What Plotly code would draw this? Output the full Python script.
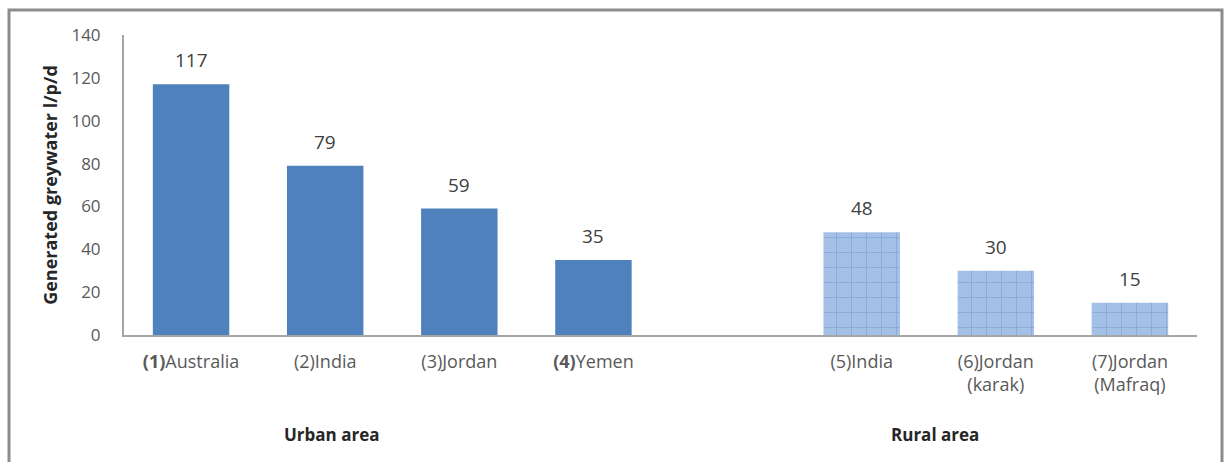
import plotly.graph_objects as go

# Greywater generated per person per day, by study site
urban_labels = ["<b>(1)</b>Australia", "(2)India", "(3)Jordan", "<b>(4)</b>Yemen"]
urban_values = [117, 79, 59, 35]
rural_labels = ["(5)India", "(6)Jordan<br>(karak)", "(7)Jordan<br>(Mafraq)"]
rural_values = [48, 30, 15]
group_names = ["Urban area", "Rural area"]
y_ticks = [0, 20, 40, 60, 80, 100, 120, 140]

FONT = "Open Sans"
BLUE = "#4f81bd"

# one empty slot separates the urban and rural groups
urban_x = list(range(len(urban_values)))
rural_x = [len(urban_values) + 1 + i for i in range(len(rural_values))]
n_slots = len(urban_values) + 1 + len(rural_values)

fig = go.Figure()
fig.add_trace(go.Bar(
    x=urban_x, y=urban_values,
    marker=dict(color=BLUE, line=dict(width=0)),
    showlegend=False, hoverinfo="x+y",
))
fig.add_trace(go.Bar(
    x=rural_x, y=rural_values,
    marker=dict(
        color="#a4c0e6", line=dict(width=0),
        pattern=dict(shape="+", fgcolor="#6e94cc", size=15, solidity=0.12,
                     fillmode="overlay"),
    ),
    showlegend=False, hoverinfo="x+y",
))

# value labels above each bar
for xs, vs in ((urban_x, urban_values), (rural_x, rural_values)):
    for x, v in zip(xs, vs):
        fig.add_annotation(x=x, y=v, text=str(v), showarrow=False,
                           yanchor="bottom", yshift=9,
                           font=dict(family=FONT, size=19, color="#404040"))

# group captions under the category labels
group_x = [1.05, 5.55]
for gx, name in zip(group_x, group_names):
    fig.add_annotation(x=gx, y=-0.333, xref="x", yref="paper", text=f"<b>{name}</b>",
                       xanchor="center", yanchor="middle",
                       showarrow=False, font=dict(family=FONT, size=17, color="#262626"))

# outer frame of the chart
L, R, T, B = 124, 32, 35, 127
W, H = 1229, 462
pw, ph = W - L - R, H - T - B
fig.add_shape(type="rect", xref="paper", yref="paper",
              x0=(9 - L) / pw, x1=(1222 - L) / pw,
              y0=(H - B - 475) / ph, y1=(H - B - 10) / ph,
              line=dict(color="#8c8c8c", width=3), fillcolor="rgba(0,0,0,0)", layer="below")

fig.update_layout(
    width=W, height=H,
    margin=dict(l=L, r=R, t=T, b=B),
    paper_bgcolor="white", plot_bgcolor="white",
    bargap=0.43,
    font=dict(family=FONT, size=16, color="#595959"),
    xaxis=dict(
        range=[-0.5, n_slots - 0.5],
        tickmode="array",
        tickvals=urban_x + rural_x,
        ticktext=urban_labels + rural_labels,
        showline=True, linecolor="#a6a6a6", linewidth=2,
        ticks="outside", ticklen=9, tickcolor="rgba(0,0,0,0)",
        showgrid=False, zeroline=False,
        tickfont=dict(family=FONT, size=18, color="#595959"),
    ),
    yaxis=dict(
        range=[0, 140],
        tickmode="array", tickvals=y_ticks,
        showline=True, linecolor="#a6a6a6", linewidth=2,
        ticks="outside", ticklen=18, tickcolor="rgba(0,0,0,0)",
        showgrid=False, zeroline=False,
        tickfont=dict(family=FONT, size=17, color="#595959"),
        title=dict(text="<b>Generated greywater l/p/d</b>", standoff=9,
                   font=dict(family=FONT, size=18, color="#262626")),
    ),
)

fig.write_html("out.html")
